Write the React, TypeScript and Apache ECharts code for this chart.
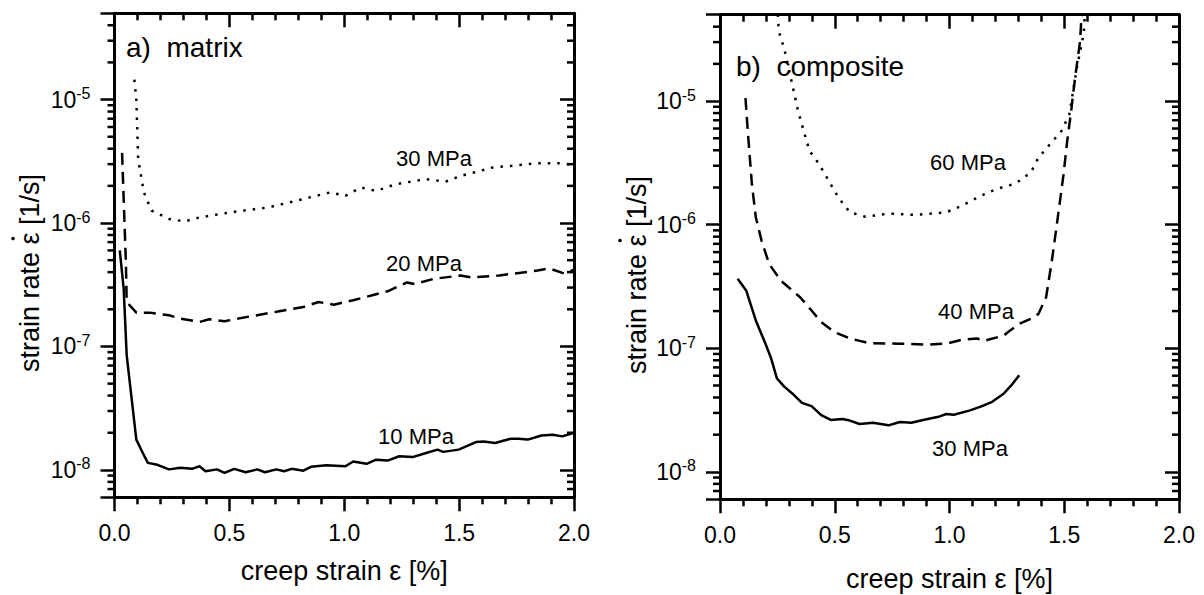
import React, { useEffect, useRef } from "react";
import * as echarts from "echarts";

const FONT = '"Liberation Sans", Arial, Helvetica, sans-serif';

// ---- data (creep strain [%], strain rate [1/s]) ----
const matrix30: [number, number][] = [
  [0.0865, 1.45e-5], [0.095, 1.0e-5], [0.103, 3.28e-6], [0.128, 1.77e-6], [0.161, 1.26e-6],
  [0.237, 1.08e-6], [0.304, 1.03e-6], [0.37, 1.11e-6], [0.504, 1.22e-6], [0.671, 1.34e-6],
  [0.788, 1.51e-6], [0.938, 1.77e-6], [1.005, 1.66e-6], [1.072, 1.94e-6], [1.139, 1.82e-6],
  [1.223, 2.06e-6], [1.356, 2.27e-6], [1.44, 2.16e-6], [1.507, 2.41e-6], [1.59, 2.64e-6],
  [1.64, 2.81e-6], [1.724, 2.9e-6], [1.841, 3.05e-6], [1.941, 3.05e-6], [2.0, 2.95e-6],
];
const matrix20: [number, number][] = [
  [0.033, 3.7e-6], [0.04, 1.56e-6], [0.05, 4.5e-7], [0.053, 2.3e-7], [0.095, 1.88e-7],
  [0.153, 1.88e-7], [0.237, 1.79e-7], [0.287, 1.68e-7], [0.37, 1.58e-7], [0.412, 1.66e-7],
  [0.479, 1.6e-7], [0.521, 1.66e-7], [0.604, 1.77e-7], [0.705, 1.91e-7], [0.822, 2.09e-7],
  [0.888, 2.29e-7], [0.955, 2.18e-7], [1.039, 2.37e-7], [1.122, 2.6e-7], [1.189, 2.8e-7],
  [1.273, 3.3e-7], [1.306, 3.2e-7], [1.39, 3.53e-7], [1.507, 3.76e-7], [1.557, 3.62e-7],
  [1.674, 3.76e-7], [1.841, 4.12e-7], [1.891, 4.3e-7], [1.958, 3.9e-7], [2.0, 4.2e-7],
];
const matrix10: [number, number][] = [
  [0.023, 6.0e-7], [0.04, 2.94e-7], [0.053, 8.5e-8], [0.095, 1.76e-8], [0.12, 1.41e-8],
  [0.145, 1.14e-8], [0.187, 1.1e-8], [0.237, 1.01e-8], [0.287, 1.04e-8], [0.337, 1.02e-8],
  [0.37, 1.07e-8], [0.396, 9.76e-9], [0.446, 1.01e-8], [0.479, 9.46e-9], [0.521, 1.02e-8],
  [0.571, 9.58e-9], [0.621, 1.01e-8], [0.655, 9.58e-9], [0.705, 1.01e-8], [0.738, 9.76e-9],
  [0.771, 1.02e-8], [0.822, 9.85e-9], [0.855, 1.06e-8], [0.922, 1.09e-8], [1.005, 1.07e-8],
  [1.039, 1.17e-8], [1.097, 1.12e-8], [1.139, 1.21e-8], [1.189, 1.19e-8], [1.239, 1.29e-8],
  [1.298, 1.27e-8], [1.356, 1.37e-8], [1.406, 1.46e-8], [1.431, 1.4e-8], [1.498, 1.46e-8],
  [1.573, 1.68e-8], [1.607, 1.7e-8], [1.657, 1.65e-8], [1.724, 1.79e-8], [1.757, 1.79e-8],
  [1.799, 1.76e-8], [1.858, 1.9e-8], [1.908, 1.93e-8], [1.949, 1.87e-8], [2.0, 2.0e-8],
];
const comp60: [number, number][] = [
  [0.25, 6e-5], [0.256, 3.67e-5], [0.281, 2.61e-5], [0.315, 1.36e-5], [0.34, 8.3e-6],
  [0.365, 5.72e-6], [0.39, 3.95e-6], [0.432, 3.09e-6], [0.474, 2.26e-6], [0.516, 1.66e-6],
  [0.566, 1.26e-6], [0.634, 1.16e-6], [0.734, 1.23e-6], [0.851, 1.2e-6], [0.986, 1.26e-6],
  [1.052, 1.42e-6], [1.136, 1.71e-6], [1.203, 1.94e-6], [1.287, 2.15e-6], [1.354, 2.64e-6],
  [1.388, 3.49e-6], [1.438, 4.48e-6], [1.488, 5.73e-6], [1.522, 7.8e-6], [1.555, 1.86e-5],
  [1.585, 3.56e-5], [1.592, 6e-5],
];
const comp40: [number, number][] = [
  [0.111, 1.06e-5], [0.122, 5.4e-6], [0.139, 2.13e-6], [0.156, 1.15e-6], [0.181, 7.43e-7],
  [0.214, 4.82e-7], [0.265, 3.53e-7], [0.349, 2.59e-7], [0.399, 2.02e-7], [0.441, 1.63e-7],
  [0.499, 1.35e-7], [0.566, 1.2e-7], [0.65, 1.1e-7], [0.784, 1.09e-7], [0.902, 1.07e-7],
  [0.986, 1.09e-7], [1.052, 1.17e-7], [1.119, 1.2e-7], [1.153, 1.15e-7], [1.237, 1.27e-7],
  [1.254, 1.35e-7], [1.304, 1.58e-7], [1.354, 1.73e-7], [1.388, 1.9e-7], [1.421, 2.59e-7],
  [1.446, 5.1e-7], [1.472, 1.15e-6], [1.497, 2.56e-6], [1.513, 4.76e-6], [1.53, 8.3e-6],
  [1.547, 1.54e-5], [1.569, 3.05e-5], [1.578, 6e-5],
];
const comp30: [number, number][] = [
  [0.077, 3.65e-7], [0.114, 2.94e-7], [0.156, 1.68e-7], [0.198, 1.09e-7], [0.223, 8.26e-8],
  [0.248, 5.7e-8], [0.281, 4.87e-8], [0.315, 4.31e-8], [0.357, 3.62e-8], [0.399, 3.4e-8],
  [0.441, 2.88e-8], [0.483, 2.63e-8], [0.533, 2.68e-8], [0.566, 2.6e-8], [0.608, 2.44e-8],
  [0.667, 2.5e-8], [0.734, 2.38e-8], [0.784, 2.53e-8], [0.834, 2.5e-8], [0.885, 2.63e-8],
  [0.952, 2.79e-8], [0.986, 2.94e-8], [1.019, 2.9e-8], [1.086, 3.13e-8], [1.136, 3.37e-8],
  [1.186, 3.69e-8], [1.237, 4.31e-8], [1.27, 5.03e-8], [1.304, 6.06e-8],
];

const Y_MIN = 6e-9;
const Y_MAX = 5e-5;
const Y_MINOR = [
  7e-9, 8e-9, 9e-9,
  2e-8, 3e-8, 4e-8, 5e-8, 6e-8, 7e-8, 8e-8, 9e-8,
  2e-7, 3e-7, 4e-7, 5e-7, 6e-7, 7e-7, 8e-7, 9e-7,
  2e-6, 3e-6, 4e-6, 5e-6, 6e-6, 7e-6, 8e-6, 9e-6,
  2e-5, 3e-5, 4e-5,
];
const X_MIN = 0;
const X_MAX = 2;
const X_INTERVAL = 0.5;

const X_TITLE = "creep strain ε [%]";
const Y_TITLE_PRE = "strain rate ";
const Y_TITLE_EPS = "ε";
const Y_TITLE_POST = " [1/s]";

const BLACK = "#000";
const TITLE_SIZE = 27;
const MAJOR_LEN = 14;
const MINOR_LEN = 7;
const TICK_W = 2.5;

function xAxes(gridIndex: number, nameGap: number) {
  const common = {
    type: "value",
    gridIndex,
    min: X_MIN,
    max: X_MAX,
    interval: X_INTERVAL,
    splitLine: { show: false },
    axisLine: { show: true, onZero: false, lineStyle: { color: BLACK, width: 3 } },
    minorTick: { show: true, splitNumber: 5, length: MINOR_LEN, lineStyle: { color: BLACK, width: TICK_W } },
  };
  return [
    {
      ...common,
      position: "bottom",
      axisTick: { show: true, inside: false, length: MAJOR_LEN, lineStyle: { color: BLACK, width: TICK_W } },
      axisLabel: {
        show: true,
        margin: 24,
        fontSize: 23,
        fontFamily: FONT,
        color: BLACK,
        formatter: (v: number) => v.toFixed(1),
      },
      name: X_TITLE,
      nameLocation: "middle",
      nameGap,
      nameTextStyle: { fontSize: TITLE_SIZE, fontFamily: FONT, color: BLACK },
    },
    {
      ...common,
      position: "top",
      axisTick: { show: true, inside: true, length: MAJOR_LEN, lineStyle: { color: BLACK, width: TICK_W } },
      axisLabel: { show: false },
    },
  ];
}

function isDecade(v: number) {
  const e = Math.log10(v);
  return Math.abs(e - Math.round(e)) < 1e-6;
}

function yAxes(gridIndex: number) {
  const common = {
    type: "log",
    logBase: 10,
    gridIndex,
    min: Y_MIN,
    max: Y_MAX,
    splitLine: { show: false },
    minorTick: { show: false },
    axisLine: { show: true, onZero: false, lineStyle: { color: BLACK, width: 3 } },
  };
  return [
    {
      ...common,
      position: "left",
      axisTick: { show: true, inside: false, length: MAJOR_LEN, lineStyle: { color: BLACK, width: TICK_W } },
      axisLabel: {
        show: true,
        margin: 24,
        formatter: (v: number) => (isDecade(v) ? `{b|10}{s|${Math.round(Math.log10(v))}}` : ""),
        rich: {
          b: { fontSize: 23, fontFamily: FONT, color: BLACK, lineHeight: 28 },
          s: { fontSize: 16, fontFamily: FONT, color: BLACK, lineHeight: 14, verticalAlign: "top" },
        },
      },
    },
    {
      ...common,
      position: "right",
      axisTick: { show: true, inside: true, length: MAJOR_LEN, lineStyle: { color: BLACK, width: TICK_W } },
      axisLabel: { show: false },
    },
  ];
}

function lineSeries(data: [number, number][], xAxisIndex: number, yAxisIndex: number, type: any) {
  return {
    type: "line",
    data,
    xAxisIndex,
    yAxisIndex,
    symbol: "none",
    clip: true,
    smooth: false,
    lineStyle: { color: BLACK, width: 2.5, type, cap: "butt" },
    silent: true,
  };
}

const DOTTED = [2.5, 7];
const DASHED = [12, 7];

function textEl(text: string, x: number, y: number, fontSize: number, align: string) {
  return {
    type: "text",
    x,
    y,
    silent: true,
    style: { text, fontSize, fontFamily: FONT, fill: BLACK, align, verticalAlign: "middle" },
  };
}

function measure(text: string, size: number) {
  const ctx = document.createElement("canvas").getContext("2d");
  if (!ctx) return text.length * size * 0.5;
  ctx.font = `${size}px "Liberation Sans", Arial, sans-serif`;
  return ctx.measureText(text).width;
}

// rotated y-axis title with a dot over epsilon (strain rate)
function yTitle(cx: number, cy: number) {
  const full = Y_TITLE_PRE + Y_TITLE_EPS + Y_TITLE_POST;
  const w = measure(full, TITLE_SIZE);
  const pre = measure(Y_TITLE_PRE, TITLE_SIZE);
  const eps = measure(Y_TITLE_EPS, TITLE_SIZE);
  const epsY = cy + w / 2 - pre - eps / 2;
  return [
    {
      type: "text",
      x: cx,
      y: cy,
      rotation: Math.PI / 2,
      silent: true,
      style: {
        text: full,
        fontSize: TITLE_SIZE,
        fontFamily: FONT,
        fill: BLACK,
        align: "center",
        verticalAlign: "middle",
      },
    },
    {
      type: "circle",
      silent: true,
      shape: { cx: cx - 17, cy: epsY, r: 1.8 },
      style: { fill: BLACK },
    },
  ];
}

// minor log ticks (2..9 x 10^n), positioned through the chart's own axes
function minorTicks(chart: any, xAxisIndex: number, yAxisIndex: number) {
  const xl = chart.convertToPixel({ xAxisIndex }, X_MIN);
  const xr = chart.convertToPixel({ xAxisIndex }, X_MAX);
  const els: any[] = [];
  Y_MINOR.forEach((v) => {
    const y = chart.convertToPixel({ yAxisIndex }, v);
    if (typeof y !== "number" || !isFinite(y)) return;
    els.push({
      type: "line",
      silent: true,
      shape: { x1: xl - MINOR_LEN, y1: y, x2: xl, y2: y },
      style: { stroke: BLACK, lineWidth: TICK_W },
    });
    els.push({
      type: "line",
      silent: true,
      shape: { x1: xr - MINOR_LEN, y1: y, x2: xr, y2: y },
      style: { stroke: BLACK, lineWidth: TICK_W },
    });
  });
  return els;
}

export default function App() {
  const ref = useRef<HTMLDivElement>(null);
  useEffect(() => {
    if (!ref.current) return;
    const chart = echarts.init(ref.current, null, { renderer: "svg" });
    const option: any = {
      animation: false,
      backgroundColor: "#fff",
      grid: [
        { left: 114.5, top: 13.3, width: 459.5, height: 484, containLabel: false, outerBoundsMode: "none" },
        { left: 720, top: 14.7, width: 459, height: 484.6, containLabel: false, outerBoundsMode: "none" },
      ],
      xAxis: [...xAxes(0, 60), ...xAxes(1, 66)],
      yAxis: [...yAxes(0), ...yAxes(1)],
      series: [
        lineSeries(matrix30, 0, 0, DOTTED),
        lineSeries(matrix20, 0, 0, DASHED),
        lineSeries(matrix10, 0, 0, "solid"),
        lineSeries(comp60, 2, 2, DOTTED),
        lineSeries(comp40, 2, 2, DASHED),
        lineSeries(comp30, 2, 2, "solid"),
      ],
    };
    chart.setOption(option);
    const graphic = [
      ...minorTicks(chart, 0, 0),
      ...minorTicks(chart, 2, 2),
      ...yTitle(30, 273),
      ...yTitle(637, 275),
      textEl("a)  matrix", 126, 47, 28, "left"),
      textEl("b)  composite", 736, 66, 28, "left"),
      textEl("30 MPa", 434, 158, 22, "center"),
      textEl("20 MPa", 424, 263, 22, "center"),
      textEl("10 MPa", 416, 436, 22, "center"),
      textEl("60 MPa", 968, 162, 22, "center"),
      textEl("40 MPa", 976, 311, 22, "center"),
      textEl("30 MPa", 970, 448, 22, "center"),
    ];
    chart.setOption({ graphic });
    return () => chart.dispose();
  }, []);
  return (
    <div
      ref={ref}
      style={{ position: "fixed", left: 0, top: 0, width: 1204, height: 595, background: "#fff" }}
    />
  );
}
